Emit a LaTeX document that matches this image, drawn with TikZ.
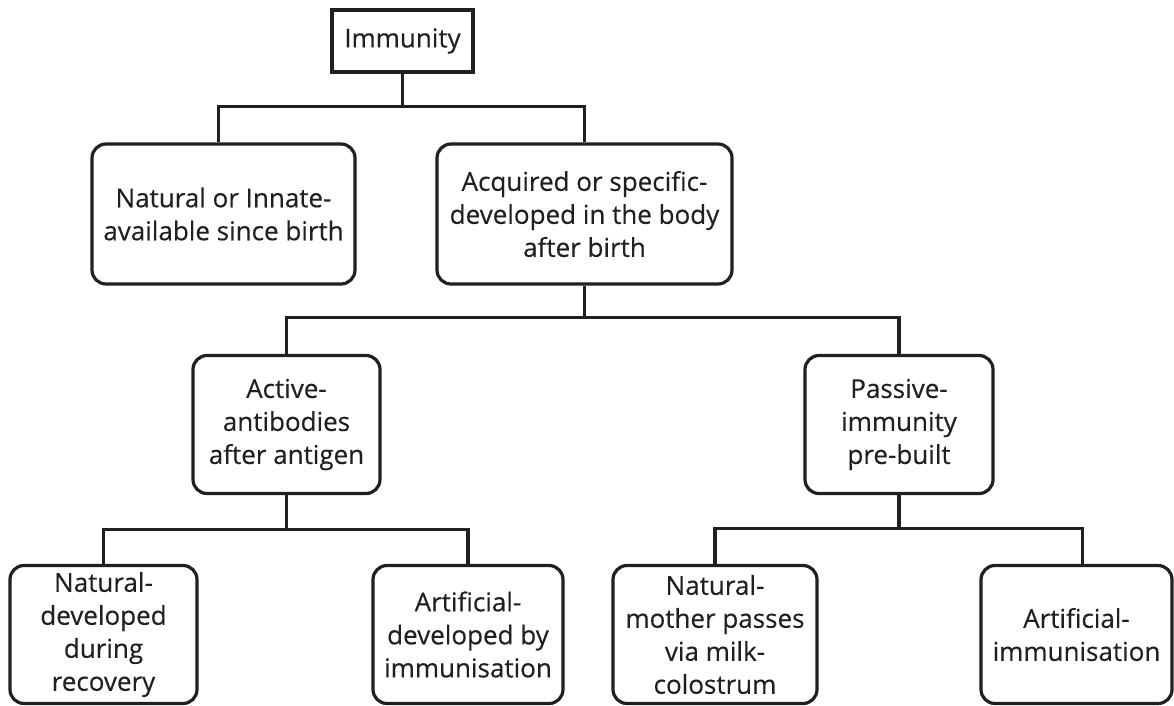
\documentclass[tikz,border=0pt]{standalone}
\usepackage{fontspec}
\setmainfont[FakeBold=0.3]{Open Sans}
\usetikzlibrary{positioning}
\definecolor{inkgrey}{RGB}{35,31,32}

\begin{document}
\begin{tikzpicture}[
  x=1pt, y=-1pt,
  rootbox/.style={rectangle, draw=inkgrey, line width=3.2pt, inner sep=0pt,
                  font=\fontsize{26}{33}\selectfont, text=inkgrey, align=center},
  ibox/.style={rootbox, rounded corners=14pt, minimum height=138pt},
  link/.style={draw=inkgrey, line width=3.2pt}
]
\useasboundingbox (0,0) rectangle (1174,705);

% top of the tree
\node[rootbox, minimum width=141pt, minimum height=62pt] (imm) at (402.5,41) {Immunity};

% first split
\node[ibox, minimum width=263pt, minimum height=140pt] (innate) at (223.5,214) {Natural or Innate-\\available since birth};
\node[ibox, minimum width=295pt, minimum height=140pt] (acquired) at (584.5,214) {Acquired or specific-\\developed in the body\\after birth};

% acquired: active / passive
\node[ibox, minimum width=187pt] (active) at (286.5,424.5) {Active-\\antibodies\\after antigen};
\node[ibox, minimum width=188pt] (passive) at (899,424.5) {Passive-\\immunity\\pre-built};

% bottom row
\node[ibox, minimum width=187pt] (natact) at (103.5,634.5) {Natural-\\developed\\during\\recovery};
\node[ibox, minimum width=190pt] (artact) at (468,634.5) {Artificial-\\developed by\\immunisation};
\node[ibox, minimum width=204pt] (natpas) at (715,634.5) {Natural-\\mother passes\\via milk-\\colostrum};
\node[ibox, minimum width=191pt] (artpas) at (1076.5,634.5) {Artificial-\\immunisation};

% branches
\draw[link] (imm.south) -- ++(0,33) coordinate (j1);
\draw[link] ([xshift=-5pt]innate.north) |- (j1) -| (acquired.north);
\draw[link] (acquired.south) -- ++(0,32) coordinate (j2);
\draw[link] (active.north) |- (j2) -| (passive.north);
\draw[link] (active.south) -- ++(0,34) coordinate (j3);
\draw[link] (natact.north) |- (j3) -| (artact.north);
\draw[link] (passive.south) -- ++(0,33) coordinate (j4);
\draw[link] (natpas.north) |- (j4) -| ([xshift=6pt]artpas.north);

\end{tikzpicture}
\end{document}
